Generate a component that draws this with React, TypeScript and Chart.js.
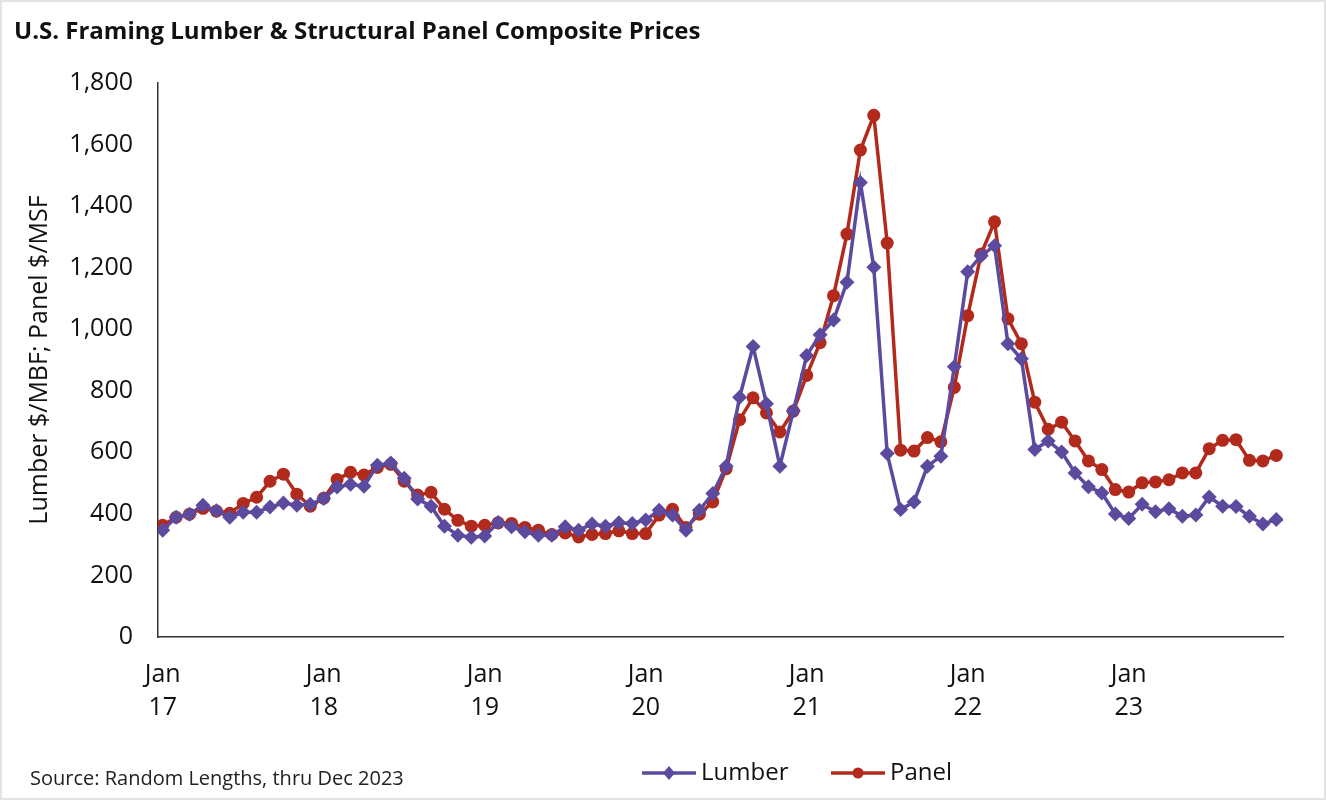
import React, { useEffect, useRef } from "react";
import { Chart, registerables } from "chart.js";

Chart.register(...registerables);

const chartTitle = "U.S. Framing Lumber & Structural Panel Composite Prices";
const sourceNote = "Source: Random Lengths, thru Dec 2023";
const yAxisTitle = "Lumber $/MBF; Panel $/MSF";
const seriesNames = ["Lumber", "Panel"];
// Tick labels: first month (Jan) of each year, two lines
const yearTickIndex = [0, 12, 24, 36, 48, 60, 72];
const yearTickLabels = ["17", "18", "19", "20", "21", "22", "23"];

// Monthly, Jan 2017 .. Dec 2023
const lumber = [
  347, 389, 399, 428, 410, 389, 405, 405, 422, 435, 428, 431,
  450, 487, 496, 490, 558, 565, 516, 448, 425, 360, 331, 324,
  328, 372, 358, 342, 331, 331, 358, 347, 367, 360, 371, 369,
  380, 412, 396, 347, 412, 466, 555, 779, 944, 758, 555, 734,
  915, 982, 1030, 1153, 1477, 1201, 596, 414, 439, 555, 587, 878,
  1187, 1239, 1271, 953, 904, 609, 637, 601, 533, 488, 468, 400,
  385, 431, 407, 417, 392, 396, 455, 425, 424, 392, 367, 382,
];
const panel = [
  363, 389, 399, 418, 409, 402, 434, 454, 506, 529, 464, 425,
  451, 512, 535, 526, 551, 561, 506, 461, 470, 415, 379, 360,
  363, 371, 369, 356, 347, 333, 338, 325, 333, 336, 345, 336,
  336, 396, 415, 356, 399, 439, 547, 706, 777, 728, 666, 734,
  850, 956, 1109, 1309, 1582, 1695, 1280, 607, 604, 648, 634, 811,
  1044, 1244, 1349, 1034, 953, 763, 675, 698, 637, 572, 544, 479,
  471, 501, 504, 511, 533, 533, 612, 639, 641, 574, 572, 590,
];

const LUMBER_COLOR = "#5B4A9E";
const PANEL_COLOR = "#B22A1C";
const FONT = "'Open Sans', 'Noto Sans', sans-serif";

const decorPlugin = {
  id: "decor",
  afterDraw(chart: any) {
    const ctx = chart.ctx;
    ctx.save();
    // title
    ctx.fillStyle = "#111";
    ctx.font = `bold 24px ${FONT}`;
    ctx.textBaseline = "alphabetic";
    ctx.textAlign = "left";
    ctx.fillText(chartTitle, 12, 37);
    // source
    ctx.font = `20px ${FONT}`;
    ctx.fillStyle = "#222";
    ctx.fillText(sourceNote, 28, 783);
    // legend
    const items = [
      { name: seriesNames[0], color: LUMBER_COLOR, style: "rectRot", x: 640 },
      { name: seriesNames[1], color: PANEL_COLOR, style: "circle", x: 829 },
    ];
    const ly = 771;
    items.forEach((it) => {
      ctx.strokeStyle = it.color;
      ctx.lineWidth = 3.5;
      ctx.beginPath();
      ctx.moveTo(it.x, ly);
      ctx.lineTo(it.x + 54, ly);
      ctx.stroke();
      ctx.fillStyle = it.color;
      ctx.beginPath();
      if (it.style === "rectRot") {
        const cx = it.x + 27;
        ctx.moveTo(cx, ly - 7);
        ctx.lineTo(cx + 6, ly);
        ctx.lineTo(cx, ly + 7);
        ctx.lineTo(cx - 6, ly);
        ctx.closePath();
      } else {
        ctx.arc(it.x + 27, ly, 5.5, 0, Math.PI * 2);
      }
      ctx.fill();
      ctx.fillStyle = "#111";
      ctx.font = `24px ${FONT}`;
      ctx.textBaseline = "middle";
      ctx.fillText(it.name, it.x + 59, ly);
    });
    ctx.restore();
  },
};

export default function App() {
  const ref = useRef<HTMLCanvasElement | null>(null);
  useEffect(() => {
    document.body.style.margin = "0";
    if (!ref.current) return;
    const toPts = (arr: number[]) => arr.map((v, i) => ({ x: i, y: v }));
    const chart = new Chart(ref.current, {
      type: "line",
      data: {
        datasets: [
          {
            label: seriesNames[0],
            data: toPts(lumber),
            borderColor: LUMBER_COLOR,
            backgroundColor: LUMBER_COLOR,
            borderWidth: 3.5,
            pointStyle: "rectRot",
            pointRadius: 7.5,
            pointBorderWidth: 0,
            tension: 0,
          },
          {
            label: seriesNames[1],
            data: toPts(panel),
            borderColor: PANEL_COLOR,
            backgroundColor: PANEL_COLOR,
            borderWidth: 3.5,
            pointStyle: "circle",
            pointRadius: 6.5,
            pointBorderWidth: 0,
            tension: 0,
          },
        ],
      },
      options: {
        animation: false,
        responsive: false,
        maintainAspectRatio: false,
        layout: { padding: { left: 18, top: 81, right: 41, bottom: 71 } },
        plugins: {
          legend: { display: false },
          title: { display: false },
          tooltip: { enabled: false },
        },
        scales: {
          x: {
            type: "linear",
            min: -0.35,
            max: 83.5,
            grid: { display: false, drawTicks: false },
            border: { display: true, color: "#333", width: 1.5 },
            afterBuildTicks: (s: any) => {
              s.ticks = yearTickIndex.map((v) => ({ value: v }));
            },
            afterFit: (s: any) => {
              s.height = 90;
            },
            ticks: {
              padding: 21,
              autoSkip: false,
              maxRotation: 0,
              color: "#111",
              font: { family: FONT, size: 25, lineHeight: 1.32 },
              callback: (v: any) => {
                const k = yearTickIndex.indexOf(Number(v));
                return k >= 0 ? ["Jan", yearTickLabels[k]] : "";
              },
            },
          },
          y: {
            min: 0,
            max: 1800,
            afterFit: (s: any) => {
              s.width = 138;
            },
            grid: { display: false, drawTicks: false },
            border: { display: true, color: "#333", width: 1.5 },
            ticks: {
              stepSize: 200,
              padding: 25,
              color: "#111",
              font: { family: FONT, size: 25 },
              callback: (v: any) => Number(v).toLocaleString("en-US"),
            },
            title: {
              display: true,
              text: yAxisTitle,
              color: "#111",
              font: { family: FONT, size: 25, lineHeight: 1.2 },
              padding: { top: 5, bottom: 0 },
            },
          },
        },
      },
      plugins: [decorPlugin],
    });
    return () => chart.destroy();
  }, []);
  return (
    <div
      style={{
        position: "relative",
        width: 1326,
        height: 800,
        boxSizing: "border-box",
        border: "2px solid #e3e3e3",
        background: "#fff",
        overflow: "hidden",
      }}
    >
      <canvas ref={ref} width={1322} height={796} style={{ display: "block" }} />
    </div>
  );
}
